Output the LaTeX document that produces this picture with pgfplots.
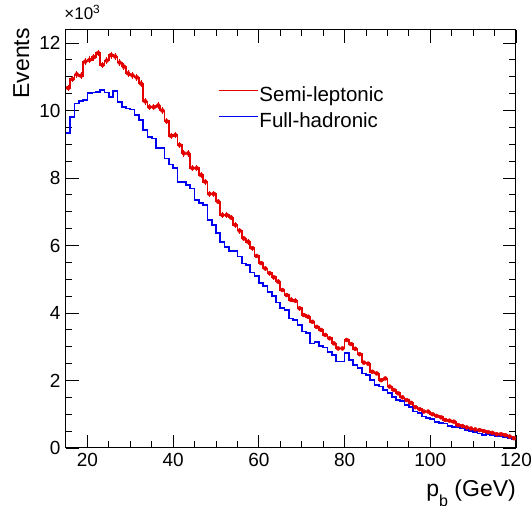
\documentclass[border=0pt]{standalone}
\usepackage{pgfplots}
\pgfplotsset{compat=1.18}
\usepackage{pgfplotstable}
\usepackage{fontspec}
\setmainfont{Liberation Sans}

% semi-leptonic: bin low edge, content (x10^3), stat. error
\pgfplotstableread{
x y e
15 10.67 0.10
16 10.93 0.10
17 11.07 0.10
18 11.03 0.10
19 11.45 0.10
20 11.50 0.10
21 11.58 0.10
22 11.70 0.10
23 11.35 0.10
24 11.48 0.10
25 11.64 0.10
26 11.60 0.10
27 11.42 0.10
28 11.30 0.10
29 11.10 0.10
30 11.04 0.10
31 10.98 0.10
32 10.80 0.10
33 10.27 0.10
34 10.10 0.10
35 10.10 0.10
36 10.15 0.10
37 10.00 0.10
38 9.68 0.095
39 9.25 0.095
40 9.27 0.095
41 8.98 0.095
42 8.73 0.095
43 8.73 0.095
44 8.29 0.095
45 8.29 0.095
46 8.09 0.095
47 7.89 0.085
48 7.53 0.085
49 7.53 0.085
50 7.30 0.085
51 6.90 0.085
52 6.90 0.085
53 6.83 0.085
54 6.61 0.085
55 6.44 0.085
56 6.21 0.085
57 6.11 0.085
58 5.92 0.07
59 5.69 0.07
60 5.48 0.07
61 5.32 0.07
62 5.18 0.07
63 5.06 0.07
64 4.93 0.07
65 4.68 0.07
66 4.53 0.07
67 4.39 0.07
68 4.36 0.07
69 4.14 0.07
70 3.94 0.055
71 3.89 0.055
72 3.74 0.055
73 3.59 0.055
74 3.50 0.055
75 3.35 0.055
76 3.25 0.055
77 3.10 0.055
78 2.95 0.055
79 2.95 0.055
80 3.20 0.055
81 3.08 0.055
82 2.94 0.055
83 2.78 0.055
84 2.53 0.055
85 2.50 0.055
86 2.26 0.055
87 2.21 0.055
88 2.01 0.055
89 2.06 0.055
90 1.82 0.04
91 1.72 0.04
92 1.62 0.04
93 1.50 0.04
94 1.42 0.04
95 1.34 0.04
96 1.21 0.04
97 1.15 0.04
98 1.08 0.04
99 1.08 0.04
100 1.00 0.03
101 0.95 0.03
102 0.91 0.03
103 0.83 0.03
104 0.81 0.03
105 0.78 0.03
106 0.68 0.03
107 0.65 0.03
108 0.61 0.03
109 0.58 0.03
110 0.55 0.03
111 0.53 0.03
112 0.50 0.03
113 0.47 0.03
114 0.45 0.03
115 0.41 0.03
116 0.41 0.03
117 0.38 0.03
118 0.34 0.03
119 0.29 0.03
120 0.29 0
}\semilep

% full-hadronic
\pgfplotstableread{
x y
15 9.34
16 9.80
17 10.21
18 10.28
19 10.31
20 10.51
21 10.53
22 10.55
23 10.60
24 10.53
25 10.41
26 10.58
27 10.26
28 10.11
29 10.06
30 10.03
31 9.87
32 9.72
33 9.42
34 9.22
35 9.17
36 8.88
37 8.88
38 8.58
39 8.40
40 8.30
41 7.89
42 7.89
43 7.79
44 7.69
45 7.35
46 7.25
47 7.20
48 6.76
49 6.61
50 6.36
51 6.11
52 5.96
53 5.84
54 5.84
55 5.67
56 5.47
57 5.42
58 5.20
59 5.10
60 4.88
61 4.80
62 4.63
63 4.50
64 4.31
65 4.14
66 4.09
67 3.84
68 3.79
69 3.64
70 3.45
71 3.40
72 3.10
73 3.15
74 3.02
75 2.98
76 2.85
77 2.76
78 2.56
79 2.56
80 2.81
81 2.61
82 2.46
83 2.36
84 2.21
85 2.16
86 2.01
87 1.87
88 1.82
89 1.72
90 1.62
91 1.52
92 1.42
93 1.40
94 1.27
95 1.21
96 1.08
97 1.03
98 0.93
99 0.88
100 0.85
101 0.78
102 0.75
103 0.73
104 0.65
105 0.63
106 0.63
107 0.58
108 0.53
109 0.51
110 0.48
111 0.43
112 0.38
113 0.41
114 0.38
115 0.35
116 0.34
117 0.32
118 0.29
119 0.26
120 0.26
}\fullhad

\definecolor{hred}{rgb}{0.9,0,0}
\definecolor{hblue}{rgb}{0,0,0.95}

\begin{document}
\begin{tikzpicture}
\useasboundingbox (-66pt,-58pt) rectangle (465pt,448pt);
\begin{axis}[
  at={(0,0)}, anchor=south west,
  scale only axis, width=450pt, height=418pt,
  xmin=15, xmax=120, ymin=0, ymax=12.385,
  xtick={20,40,...,120}, ytick={0,2,...,12},
  minor x tick num=3, minor y tick num=3,
  xtick pos=both, ytick pos=both,
  xticklabel pos=lower, yticklabel pos=left,
  tick align=inside,
  major tick length=13pt, minor tick length=6.5pt,
  every tick/.style={black, line width=0.9pt},
  axis line style={line width=1pt},
  /pgf/number format/assume math mode=true,
  ticklabel style={font=\fontsize{19}{22}\selectfont},
  xticklabel style={yshift=-2pt},
  yticklabel style={xshift=-2pt},
  title={×10\textsuperscript{3}},
  title style={at={(axis description cs:-0.004,1.0096)}, anchor=base west, inner sep=0pt, font=\fontsize{17}{20}\selectfont},
  xlabel={p\raisebox{-0.4em}{\fontsize{16}{16}\selectfont b} (GeV)},
  xlabel style={at={(axis description cs:1,-0.1172)}, anchor=base east, inner sep=0pt, font=\fontsize{23}{26}\selectfont},
  ylabel={Events},
  ylabel style={at={(axis description cs:-0.082,1.005)}, anchor=base east, inner sep=0pt, font=\fontsize{23}{26}\selectfont},
  legend style={at={(axis description cs:0.338,0.866)}, anchor=north west,
    draw=none, fill=none, inner sep=0pt, row sep=6pt,
    font=\fontsize{20.5}{23}\selectfont,
    nodes={inner sep=1pt, text height=14pt, text depth=4pt},
    /tikz/every even column/.append style={column sep=10pt}},
  legend cell align=left,
  legend image code/.code={\draw[#1, line width=1.2pt] (0pt,6pt) -- (39pt,6pt);},
]
\addplot[const plot, hred, line width=1.7pt] table[x=x, y=y] {\semilep};
\addlegendentry{Semi-leptonic}
\addplot[const plot, hblue, line width=1.7pt] table[x=x, y=y] {\fullhad};
\addlegendentry{Full-hadronic}
\addplot[hred, only marks, mark=none, forget plot,
  error bars/.cd, y dir=both, y explicit, error mark=none,
  error bar style={hred, line width=0.8pt}]
  table[x expr=\thisrow{x}+0.5, y=y, y error=e] {\semilep};
\end{axis}
\end{tikzpicture}
\end{document}
